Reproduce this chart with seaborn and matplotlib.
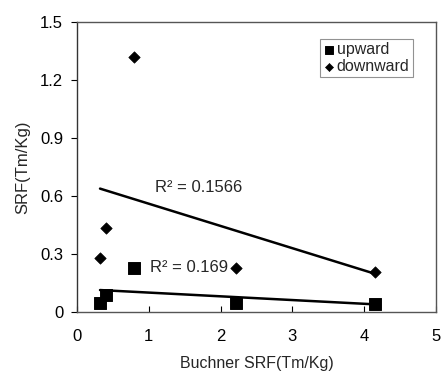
import numpy as np
import pandas as pd
import seaborn as sns
import matplotlib.pyplot as plt

# values
up_x = [0.32, 0.40, 0.80, 2.21, 4.15]
up_y = [0.045, 0.088, 0.228, 0.047, 0.040]
down_x = [0.32, 0.40, 0.79, 2.21, 4.15]
down_y = [0.280, 0.435, 1.320, 0.228, 0.207]
x_ticks = [0, 1, 2, 3, 4, 5]
y_ticks = [0, 0.3, 0.6, 0.9, 1.2, 1.5]
y_tick_labels = ['0', '0.3', '0.6', '0.9', '1.2', '1.5']

sns.set_style('white')
plt.rcParams['font.family'] = ['Liberation Sans', 'DejaVu Sans']

up = pd.DataFrame({'x': up_x, 'y': up_y})
down = pd.DataFrame({'x': down_x, 'y': down_y})

fig, ax = plt.subplots(figsize=(4.48, 3.76), dpi=100)
fig.subplots_adjust(left=0.172, right=0.973, top=0.942, bottom=0.17)

# data points
sns.scatterplot(data=up, x='x', y='y', marker='s', s=70, color='black',
                edgecolor='black', ax=ax, label='upward', zorder=3)
sns.scatterplot(data=down, x='x', y='y', marker='D', s=34, color='black',
                edgecolor='black', ax=ax, label='downward', zorder=3)

# linear trend lines
sns.regplot(data=up, x='x', y='y', ci=None, scatter=False, ax=ax,
            line_kws={'color': 'black', 'lw': 1.8})
sns.regplot(data=down, x='x', y='y', ci=None, scatter=False, ax=ax,
            line_kws={'color': 'black', 'lw': 1.8})

ax.text(1.08, 0.645, 'R² = 0.1566', fontsize=12, va='center')
ax.text(1.01, 0.228, 'R² = 0.169', fontsize=12, va='center')

ax.set_xlim(0, 5)
ax.set_ylim(0, 1.5)
ax.set_xticks(x_ticks)
ax.set_yticks(y_ticks)
ax.set_yticklabels(y_tick_labels)
ax.set_xlabel('Buchner SRF(Tm/Kg)', fontsize=11.5, labelpad=9)
ax.set_ylabel('SRF(Tm/Kg)', fontsize=12, labelpad=7)
ax.tick_params(axis='y', direction='out', length=4, width=0.8, labelsize=12, pad=6)
ax.tick_params(axis='x', direction='in', length=4, width=0.8, labelsize=12, pad=12)
ax.tick_params(left=True, bottom=True, colors='black')

for side in ['top', 'right', 'bottom']:
    ax.spines[side].set_linestyle((0, (1, 1)))
    ax.spines[side].set_color('#555555')
    ax.spines[side].set_linewidth(1)
ax.spines['left'].set_color('#333333')
ax.spines['left'].set_linewidth(1)

leg = ax.legend(loc='upper right', bbox_to_anchor=(0.935, 0.942), fontsize=11.5,
                frameon=True, fancybox=False, edgecolor='#777777',
                handletextpad=0.05, handlelength=0.8, borderpad=0.2,
                labelspacing=0.15, borderaxespad=0, markerscale=0.7)
leg.get_frame().set_linewidth(0.8)

fig.savefig('out.png', dpi=100)
